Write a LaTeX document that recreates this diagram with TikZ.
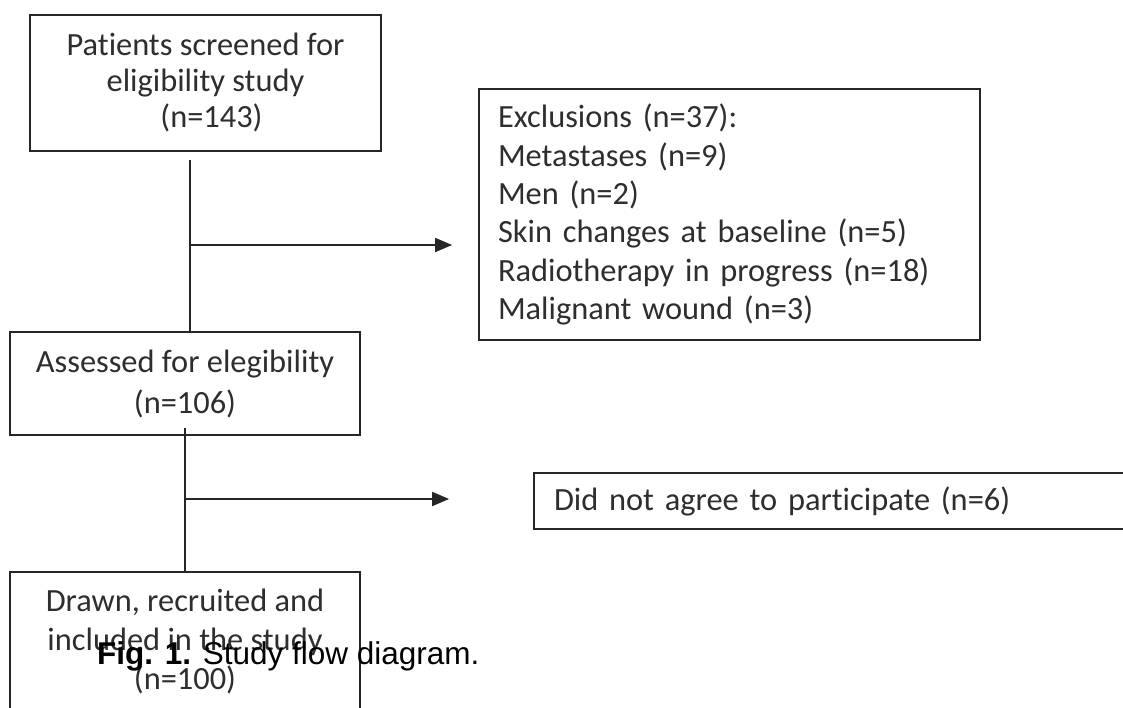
\documentclass[tikz,border=0pt]{standalone}
\usepackage{fontspec}
\setmainfont{Carlito}[Ligatures=NoCommon]
\newfontfamily\capfont{Liberation Sans}
\usetikzlibrary{arrows.meta,calc}
\definecolor{linec}{HTML}{262626}
\definecolor{textc}{HTML}{2E2E2E}
\tikzset{
  flowbox/.style={draw=linec, line width=1.8pt, text=textc, inner sep=0pt},
  conn/.style={draw=linec, line width=1.8pt},
  arr/.style={conn, -{Triangle[length=17pt,width=14pt]}}
}
\begin{document}
\begin{tikzpicture}[x=1pt,y=-1pt]
\useasboundingbox (0,0) rectangle (1123,708);
\clip (0,0) rectangle (1123,708);
\fill[white] (0,0) rectangle (1123,708);

\node[flowbox, minimum width=351pt, minimum height=136pt, align=center,
      font=\fontsize{32.4}{36}\selectfont] (b1) at (205.5,83)
  {Patients screened for\\eligibility study\\\hspace{12pt}(n=143)};

\node[flowbox, minimum width=350pt, minimum height=103pt, align=center,
      font=\fontsize{32.4}{41}\selectfont] (b2) at (185,383.5)
  {Assessed for elegibility\\(n=106)};

\node[flowbox, minimum width=350pt, minimum height=139pt, align=center,
      font=\fontsize{32.4}{39}\selectfont] (b3) at (185,641.5)
  {Drawn, recruited and\\included in the study\\(n=100)};

\node[flowbox, minimum height=251pt, inner xsep=19pt, text width=463pt, align=left,
      font=\fontsize{32.4}{38.3}\selectfont] (exc) at (729.5,214.5)
  {Exclusions (n=37):\\Metastases (n=9)\\Men (n=2)\\Skin changes at baseline (n=5)\\Radiotherapy in progress (n=18)\\Malignant wound (n=3)};

\node[flowbox, minimum height=56pt, inner xsep=20pt, text width=566pt, align=left,
      font=\fontsize{32.4}{38.3}\selectfont] (dna) at (837,501)
  {Did not agree to participate (n=6)};

\coordinate (s1) at (190,160);
\coordinate (j1) at (190,245);
\coordinate (s2) at (185,428);
\coordinate (j2) at (185,499);

\draw[conn] (s1) -- (s1 |- b2.north);
\draw[arr, shorten >=26pt] (j1) -- (j1 -| exc.west);
\draw[conn] (s2) -- (s2 |- b3.north);
\draw[arr, shorten >=84pt] (j2) -- (j2 -| dna.west);

\node[anchor=base west, inner sep=0pt, text=black,
      font=\capfont\fontsize{31.5}{36}\selectfont] (cap) at (97,664)
  {\textbf{Fig. 1.} Study flow diagram.};
\end{tikzpicture}
\end{document}
